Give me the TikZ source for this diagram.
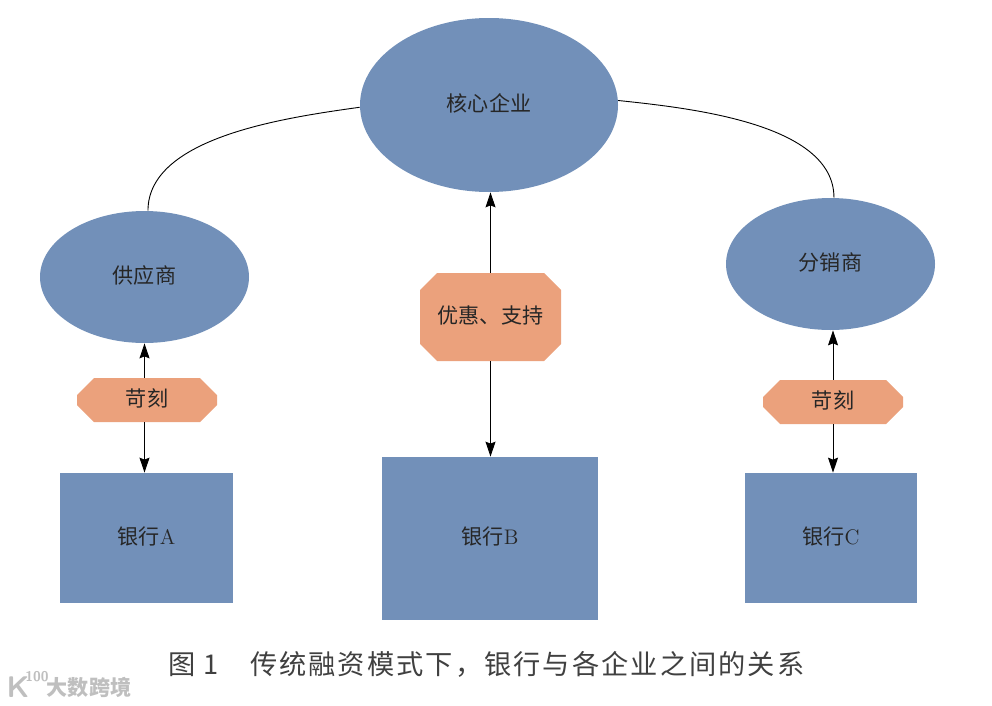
\documentclass[tikz,border=0pt]{standalone}
\usepackage{fontspec}
\newfontfamily\cjk{Noto Sans CJK SC}
\newfontfamily\capcjk[LetterSpace=7.5]{Noto Sans CJK SC}
\usetikzlibrary{arrows.meta, shapes.geometric, shapes.misc}
\definecolor{nodeblue}{HTML}{7290B9}
\definecolor{nodeorange}{HTML}{EBA17C}
\tikzset{
    party/.style={ellipse, fill=nodeblue, inner sep=0pt},
    bank/.style={rectangle, fill=nodeblue, inner sep=0pt},
    terms/.style={chamfered rectangle, chamfered rectangle xsep=0.17cm, chamfered rectangle ysep=0.17cm, fill=nodeorange, inner sep=0pt},
}

\begin{document}
\begin{tikzpicture}
    \useasboundingbox (0,0) rectangle (19.84,14.1);

    \begin{scope}[every node/.append style={font=\fontsize{12}{14}\selectfont, text=black!85, text height=0.88em, text depth=0.17em}]
        \node[party, minimum width=5.16cm, minimum height=3.48cm] (core) at (9.78,12) {\cjk 核心企业};
        \node[party, minimum width=4.18cm, minimum height=2.64cm] (sup) at (2.89,8.56) {\cjk 供应商};
        \node[party, minimum width=4.18cm, minimum height=2.64cm] (dis) at (16.61,8.82) {\cjk 分销商};

        \node[terms, minimum width=2.8cm, minimum height=0.88cm] (ta) at (2.94,6.1) {\cjk 苛刻};
        \node[terms, minimum width=2.82cm, minimum height=1.76cm] (tb) at (9.81,7.76) {\cjk 优惠、支持};
        \node[terms, minimum width=2.8cm, minimum height=0.88cm] (tc) at (16.66,6.06) {\cjk 苛刻};

        \node[bank, minimum width=3.46cm, minimum height=2.6cm] (ba) at (2.93,3.34) {{\cjk 银行}A};
        \node[bank, minimum width=4.32cm, minimum height=3.26cm] (bb) at (9.8,3.33) {{\cjk 银行}B};
        \node[bank, minimum width=3.44cm, minimum height=2.6cm] (bc) at (16.62,3.34) {{\cjk 银行}C};
    \end{scope}

    \begin{scope}[>={Stealth[length=0.3cm, width=0.2cm, inset=0.04cm]}, every path/.style={line width=0.018cm, black}]
        \path [->] (ta.north -| sup.south) edge (sup.south);
        \path [->] (ta.south -| sup.south) edge (sup.south |- ba.north);
        \path [->] (tb.north) edge (tb.north |- core.south);
        \path [->] (tb.south) edge (tb.south |- bb.north);
        \path [->] (tc.north) edge (tc.north |- dis.south);
        \path [->] (tc.south) edge (tc.south |- bc.north);
        \path (sup.87) edge[out=90, in=188, looseness=0.8] (core.181);
        \path (core.2) edge[out=-6, in=90, looseness=0.8] (dis.87);
    \end{scope}

    \node[font=\fontsize{15.5}{17}\selectfont, text=black!75] (caption) at (9.73,0.82) {\capcjk 图 1\hspace{0.62cm}传统融资模式下，银行与各企业之间的关系};

    \node[font=\fontsize{12}{14}\selectfont\bfseries, text=black!25] (mark) at (1.78,0.36) {\cjk 大数跨境};
    \node[font=\fontsize{17}{18}\selectfont\sffamily\bfseries, text=black!25, inner sep=0pt] (logo) at (0.36,0.36) {K};
    \node[font=\fontsize{8}{9}\selectfont\sffamily\bfseries, text=black!25, inner sep=0pt, anchor=west] (logonum) at (0.5,0.56) {100};
\end{tikzpicture}
\end{document}
